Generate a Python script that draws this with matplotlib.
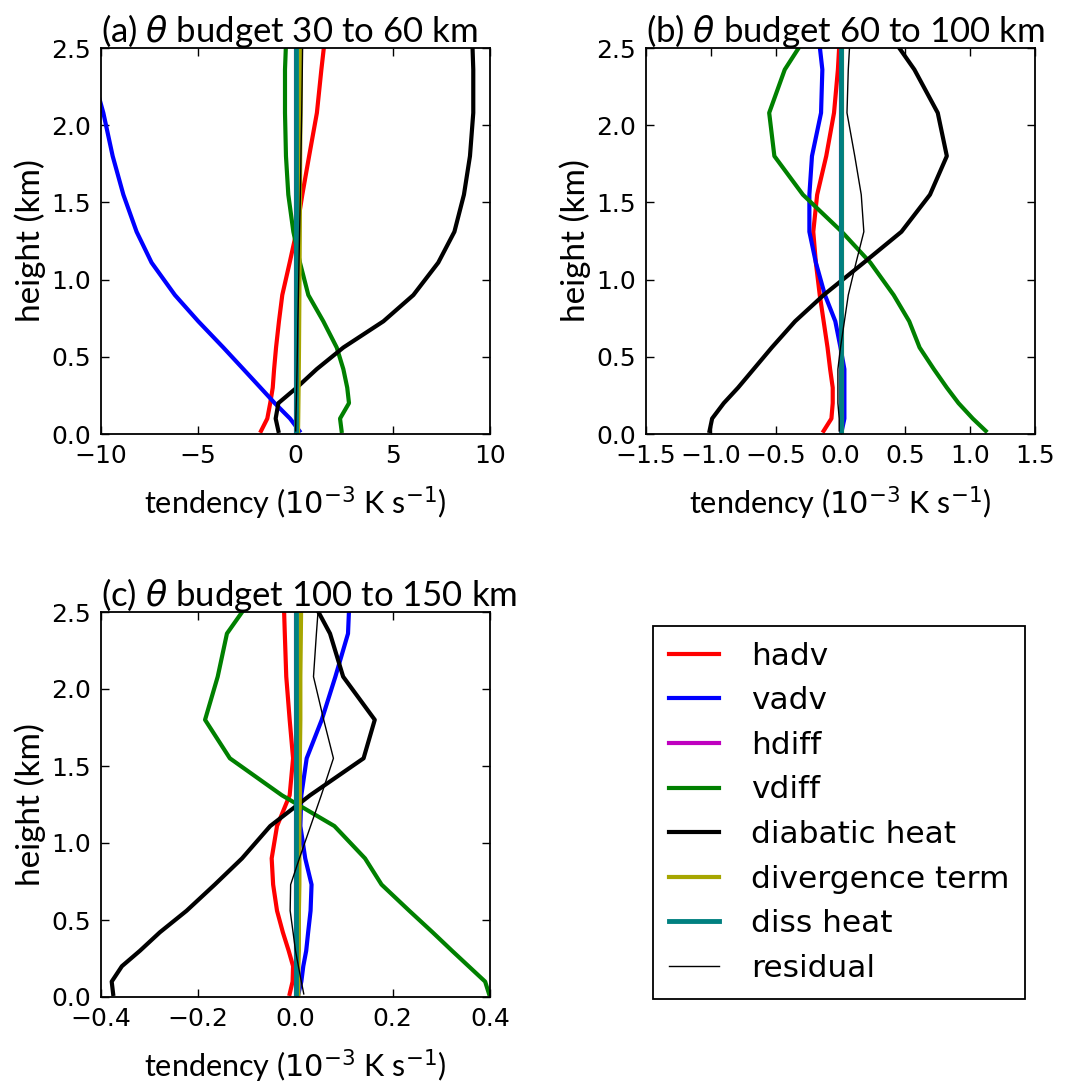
import numpy as np
import matplotlib
matplotlib.use('Agg')
import matplotlib.pyplot as plt

# heights of the model levels (km)
z = [0.02, 0.1, 0.2, 0.3, 0.42, 0.56, 0.73, 0.9, 1.11, 1.31, 1.55, 1.8, 2.08, 2.36, 2.66]

labels = ['hadv', 'vadv', 'hdiff', 'vdiff', 'diabatic heat', 'divergence term', 'diss heat', 'residual']
colors = ['r', 'b', 'm', 'g', 'k', (0.65, 0.65, 0.0), 'teal', 'k']
widths = [3.0, 3.0, 3.0, 3.0, 3.0, 3.0, 3.5, 1.0]

titles = [r'(a) $\theta$ budget 30 to 60 km',
          r'(b) $\theta$ budget 60 to 100 km',
          r'(c) $\theta$ budget 100 to 150 km']

# (a) 30 to 60 km
a_hadv = [-1.77, -1.45, -1.3, -1.17, -1.1, -1.0, -0.85, -0.68, -0.3, 0.05, 0.35, 0.7, 1.1, 1.33, 1.6]
a_vadv = [0.2, -0.28, -1.07, -1.8, -2.68, -3.71, -5.0, -6.2, -7.4, -8.17, -8.85, -9.4, -9.88, -10.5, -11.1]
a_hdiff = [0.0, 0.0, 0.0, 0.0, 0.0, 0.0, 0.0, 0.0, 0.0, 0.0, 0.0, 0.0, 0.0, 0.0, 0.0]
a_vdiff = [2.37, 2.29, 2.75, 2.66, 2.46, 2.12, 1.43, 0.66, 0.23, -0.11, -0.37, -0.49, -0.54, -0.54, -0.45]
a_diab = [-0.88, -1.02, -0.88, 0.06, 1.09, 2.46, 4.52, 6.06, 7.34, 8.17, 8.66, 8.97, 9.14, 9.14, 9.06]
a_div = [0.13, 0.14, 0.15, 0.16, 0.17, 0.18, 0.19, 0.2, 0.21, 0.22, 0.23, 0.24, 0.26, 0.27, 0.28]
a_diss = [0.0, 0.0, 0.0, 0.0, 0.0, 0.0, 0.0, 0.0, 0.0, 0.0, 0.0, 0.0, 0.0, 0.0, 0.0]
a_resid = [0.01, 0.02, 0.04, 0.06, 0.08, 0.1, 0.12, 0.15, 0.18, 0.21, 0.25, 0.28, 0.32, 0.35, 0.38]

# (b) 60 to 100 km
b_hadv = [-0.13, -0.07, -0.06, -0.06, -0.08, -0.1, -0.13, -0.16, -0.19, -0.21, -0.18, -0.11, -0.05, -0.02, 0.0]
b_vadv = [0.01, 0.03, 0.03, 0.03, 0.03, 0.0, -0.04, -0.12, -0.19, -0.24, -0.24, -0.22, -0.15, -0.14, -0.18]
b_hdiff = [0.0, 0.0, 0.0, 0.0, 0.0, 0.0, 0.0, 0.0, 0.0, 0.0, 0.0, 0.0, 0.0, 0.0, 0.0]
b_vdiff = [1.12, 1.02, 0.91, 0.82, 0.72, 0.61, 0.53, 0.41, 0.23, 0.01, -0.29, -0.51, -0.55, -0.43, -0.2]
b_diab = [-1.01, -0.99, -0.9, -0.79, -0.67, -0.53, -0.35, -0.13, 0.18, 0.47, 0.69, 0.82, 0.75, 0.57, 0.32]
b_div = [0.01, 0.01, 0.01, 0.01, 0.01, 0.01, 0.01, 0.01, 0.01, 0.01, 0.01, 0.01, 0.01, 0.01, 0.01]
b_diss = [0.0, 0.0, 0.0, 0.0, 0.0, 0.0, 0.0, 0.0, 0.0, 0.0, 0.0, 0.0, 0.0, 0.0, 0.0]
b_resid = [-0.01, -0.01, -0.02, -0.02, -0.02, 0.0, 0.03, 0.06, 0.12, 0.18, 0.16, 0.11, 0.05, 0.06, 0.08]

# (c) 100 to 150 km
c_hadv = [-0.012, -0.006, -0.005, -0.014, -0.026, -0.038, -0.046, -0.049, -0.038, -0.012, -0.005, -0.012, -0.019, -0.022, -0.025]
c_vadv = [0.006, 0.012, 0.016, 0.022, 0.026, 0.031, 0.033, 0.02, 0.01, 0.012, 0.023, 0.054, 0.082, 0.108, 0.112]
c_hdiff = [0.0, 0.0, 0.0, 0.0, 0.0, 0.0, 0.0, 0.0, 0.0, 0.0, 0.0, 0.0, 0.0, 0.0, 0.0]
c_vdiff = [0.398, 0.39, 0.356, 0.322, 0.282, 0.234, 0.177, 0.143, 0.08, -0.028, -0.135, -0.186, -0.16, -0.141, -0.074]
c_diab = [-0.375, -0.378, -0.357, -0.32, -0.279, -0.224, -0.166, -0.11, -0.052, 0.03, 0.14, 0.163, 0.098, 0.071, 0.02]
c_div = [0.006, 0.006, 0.006, 0.007, 0.007, 0.007, 0.008, 0.008, 0.008, 0.009, 0.009, 0.01, 0.01, 0.011, 0.012]
c_diss = [0.0, 0.0, 0.0, 0.0, 0.0, 0.0, 0.0, 0.0, 0.0, 0.0, 0.0, 0.0, 0.0, 0.0, 0.0]
c_resid = [0.017, 0.012, 0.006, 0.0, -0.005, -0.011, -0.01, 0.008, 0.031, 0.053, 0.078, 0.058, 0.037, 0.043, 0.05]

budgets = [
    [a_hadv, a_vadv, a_hdiff, a_vdiff, a_diab, a_div, a_diss, a_resid],
    [b_hadv, b_vadv, b_hdiff, b_vdiff, b_diab, b_div, b_diss, b_resid],
    [c_hadv, c_vadv, c_hdiff, c_vdiff, c_diab, c_div, c_diss, c_resid],
]
xlims = [(-10, 10), (-1.5, 1.5), (-0.4, 0.4)]
xticks = [[-10, -5, 0, 5, 10],
          [-1.5, -1.0, -0.5, 0.0, 0.5, 1.0, 1.5],
          [-0.4, -0.2, 0.0, 0.2, 0.4]]
xfmt = ['%d', '%.1f', '%.1f']
yticks = [0.0, 0.5, 1.0, 1.5, 2.0, 2.5]

plt.rcParams['font.family'] = ['DejaVu Sans']
plt.rcParams['mathtext.fontset'] = 'dejavusans'
label_font = ['Lato', 'DejaVu Sans']

fig = plt.figure(figsize=(10.68, 10.86), dpi=100)
W, H = 1068.0, 1086.0
boxes = [(101, 48, 490, 434), (646, 48, 1035, 434), (101, 612, 490, 997)]

for i in range(3):
    l, t, r, b = boxes[i]
    ax = fig.add_axes([l / W, 1 - b / H, (r - l) / W, (b - t) / H])
    for k in range(8):
        ax.plot(budgets[i][k], z, color=colors[k], lw=widths[k], label=labels[k])
    ax.set_xlim(*xlims[i])
    ax.set_ylim(0, 2.5)
    ax.tick_params(direction='in', top=True, right=True, length=6, width=1, pad=7,
                   labelsize=18, labelfontfamily='DejaVu Sans')
    ax.set_xticks(xticks[i])
    ax.set_xticklabels([(xfmt[i] % v).replace('-', '\u2212') for v in xticks[i]])
    ax.set_yticks(yticks)
    ax.set_yticklabels(['%.1f' % v for v in yticks])
    for s in ax.spines.values():
        s.set_linewidth(1.3)
    ax.set_title(titles[i], family=label_font, fontsize=25, pad=4, loc='left')
    ax.set_xlabel(r'tendency ($10^{-3}$ K s$^{-1}$)', family=label_font, fontsize=22, labelpad=12)
    ax.set_ylabel('height (km)', family=label_font, fontsize=24, labelpad=4)
    if i == 0:
        handles = ax.get_lines()

leg = fig.legend(handles, labels, loc='upper left',
                 bbox_to_anchor=(653 / W, 1 - 626 / H),
                 prop={'family': 'DejaVu Sans', 'size': 22.5},
                 fancybox=False, edgecolor='k', framealpha=1,
                 handlelength=1.6, handletextpad=1.05, labelspacing=0.5,
                 borderpad=0.5, borderaxespad=0.0)
leg.get_frame().set_linewidth(1.3)

fig.savefig('out.png', dpi=100)
